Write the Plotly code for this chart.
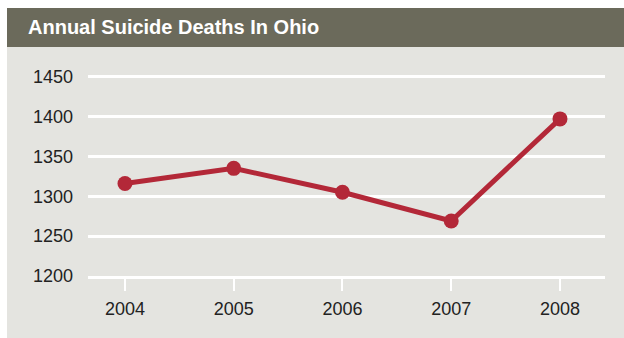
import plotly.graph_objects as go

years = [2004, 2005, 2006, 2007, 2008]
deaths = [1316, 1335, 1305, 1269, 1397]
y_ticks = [1200, 1250, 1300, 1350, 1400, 1450]
title_text = "Annual Suicide Deaths In Ohio"

W, H = 624, 338
L, R, T, B = 88, 19, 68, 62
pw, ph = W - L - R, H - T - B

def px_x(p):
    return (p - L) / pw

def px_y(p):
    return (H - B - p) / ph

fig = go.Figure()
fig.add_trace(go.Scatter(
    x=years, y=deaths, mode="lines+markers",
    line=dict(color="#b32838", width=5),
    marker=dict(color="#b32838", size=15),
    cliponaxis=False, hoverinfo="skip"))

shapes = [
    dict(type="rect", xref="paper", yref="paper", layer="below",
         x0=px_x(7), x1=px_x(624), y0=px_y(338), y1=px_y(47),
         fillcolor="#e4e4e0", line=dict(width=0)),
    dict(type="rect", xref="paper", yref="paper", layer="below",
         x0=px_x(7), x1=px_x(624), y0=px_y(47), y1=px_y(8),
         fillcolor="#6b6a5b", line=dict(width=0)),
]

fig.update_layout(
    width=W, height=H,
    margin=dict(l=L, r=R, t=T, b=B, pad=0),
    paper_bgcolor="white", plot_bgcolor="rgba(0,0,0,0)",
    showlegend=False,
    shapes=shapes,
    font=dict(family="Liberation Sans, Arial, sans-serif", size=18, color="#222222"),
    annotations=[dict(
        text="<b>" + title_text + "</b>", xref="paper", yref="paper",
        x=px_x(26), y=px_y(27), xanchor="left", yanchor="middle",
        showarrow=False, font=dict(size=20, color="white",
                                   family="Liberation Sans, Arial, sans-serif"))],
    xaxis=dict(range=[2003.66, 2008.414], tickvals=years,
               ticktext=[str(y) for y in years],
               showgrid=False, zeroline=False,
               showline=True, linecolor="white", linewidth=3,
               ticks="outside", ticklen=12, tickwidth=2, tickcolor="white",
               ticklabelstandoff=2, fixedrange=True),
    yaxis=dict(range=[1200, 1460.8], tickvals=y_ticks,
               showgrid=True, gridcolor="white", gridwidth=3,
               zeroline=False, showline=False, ticks="",
               ticklabelstandoff=14, fixedrange=True),
)

fig.write_html("out.html")
